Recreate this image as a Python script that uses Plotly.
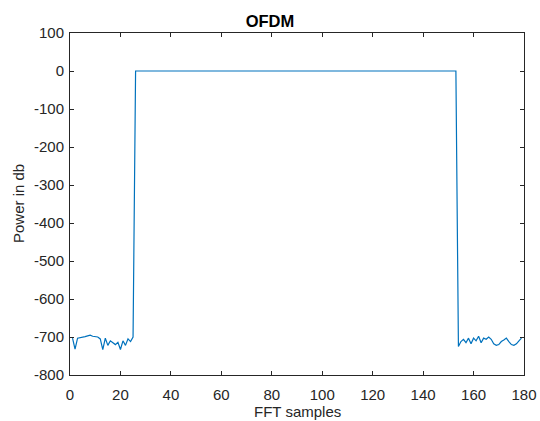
import numpy as np
import plotly.graph_objects as go

# Spectrum of an OFDM symbol: guard bins on both sides, 128 occupied bins at 0 dB
left_guard_db = [-703, -732, -703, -702, -700, -699, -697, -695, -698, -699,
                 -700, -705, -733, -703, -722, -710, -715, -720, -714, -733,
                 -710, -722, -705, -712, -700]
occupied_db = [0] * 128
right_guard_db = [-725, -712, -706, -715, -703, -718, -703, -710, -698, -715,
                  -703, -706, -700, -706, -718, -722, -720, -712, -708, -703,
                  -712, -720, -722, -718, -710, -703]

power_db = left_guard_db + occupied_db + right_guard_db
samples = list(range(1, len(power_db) + 1))

x_ticks = [0, 20, 40, 60, 80, 100, 120, 140, 160, 180]
y_ticks = [100, 0, -100, -200, -300, -400, -500, -600, -700, -800]

font_family = "Liberation Sans, Arial, Helvetica, sans-serif"
axis_color = "#262626"

fig = go.Figure()
fig.add_trace(go.Scatter(
    x=samples, y=power_db, mode="lines",
    line=dict(color="#0072BD", width=1.2),
    showlegend=False,
))

axis_common = dict(
    showline=True, linecolor=axis_color, linewidth=1, mirror="ticks",
    ticks="inside", ticklen=4, tickcolor=axis_color, tickwidth=1,
    showgrid=False, zeroline=False, automargin=False,
    tickfont=dict(family=font_family, size=15, color=axis_color),
)

fig.update_layout(
    width=540, height=421,
    margin=dict(l=70, r=16, t=33, b=46),
    paper_bgcolor="white", plot_bgcolor="white",
    title=dict(text="<b>OFDM</b>", x=0.5, xanchor="center", y=1 - 21 / 421,
               yanchor="middle",
               font=dict(family=font_family, size=16.5, color="#000000")),
    xaxis=dict(axis_common, range=[0, 180], tickvals=x_ticks,
               ticktext=[str(v) for v in x_ticks], ticklabelstandoff=6),
    yaxis=dict(axis_common, range=[-800, 100], tickvals=y_ticks,
               ticktext=[str(v) for v in y_ticks], ticklabelstandoff=2),
    annotations=[
        dict(text="FFT samples", xref="paper", yref="paper", x=0.5, y=0,
             xanchor="center", yanchor="middle", yshift=-36, borderpad=0,
             showarrow=False,
             font=dict(family=font_family, size=15, color=axis_color)),
        dict(text="Power in db", xref="paper", yref="paper", x=0, y=0.5,
             xanchor="center", yanchor="middle", xshift=-52, textangle=-90,
             showarrow=False,
             font=dict(family=font_family, size=15, color=axis_color)),
    ],
)

fig.write_html("out.html")
